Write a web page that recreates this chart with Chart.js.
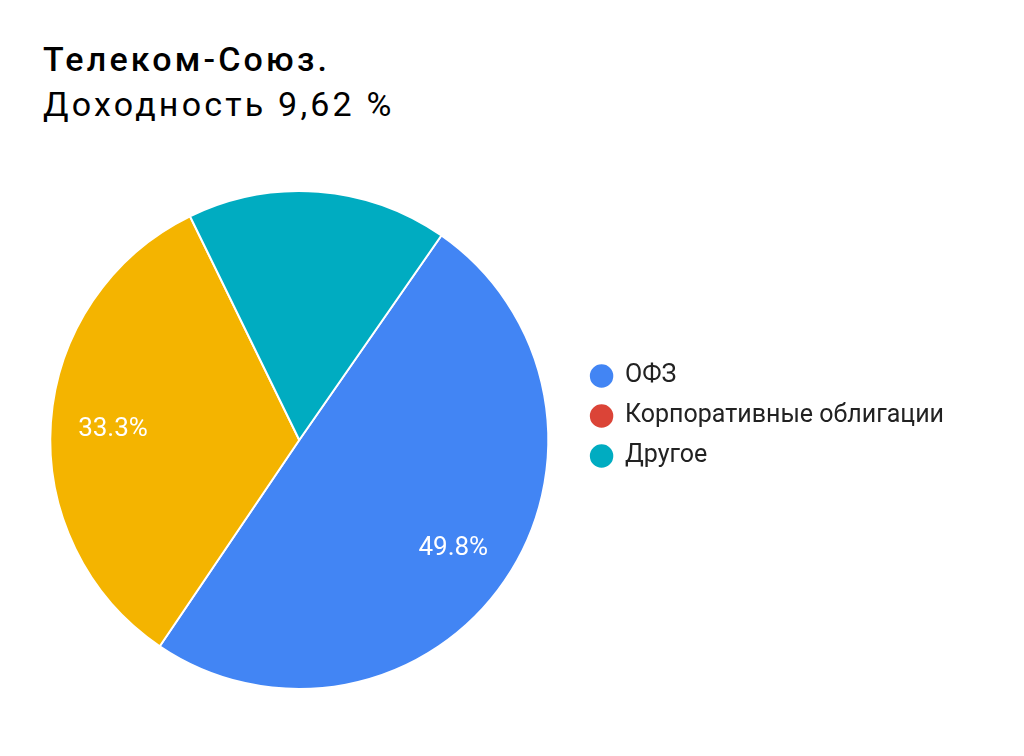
<!DOCTYPE html>
<html>
<head>
<meta charset="utf-8">
<script src="https://cdn.jsdelivr.net/npm/chart.js@4/dist/chart.umd.min.js"></script>
<style>
    body { margin: 0; background: #fff; width: 1024px; height: 756px; overflow: hidden; font-family: Roboto, sans-serif; }
    .title { position: absolute; left: 43px; top: 37px; color: #000; letter-spacing: 3.2px; }
    .title .l1 { font-size: 34px; font-weight: 500; line-height: 45px; }
    .title .l2 { font-size: 34px; font-weight: 400; line-height: 45px; }
    .chart-box { position: absolute; left: 23px; top: 180px; width: 931px; height: 520px; }
</style>
</head>
<body>
<div class="title">
    <div class="l1">Телеком-Союз.</div>
    <div class="l2">Доходность 9,62 %</div>
</div>
<div class="chart-box"><canvas id="pieChart"></canvas></div>
<script>
// данные
const categories = ['ОФЗ', 'Корпоративные облигации', '', 'Другое'];
const shares = [49.8, 0, 33.3, 16.9];
const sliceColors = ['#4285F4', '#DB4437', '#F4B400', '#00ACC1'];
const showPercent = [true, false, true, false];

// подписи процентов внутри секторов
const percentLabels = {
    id: 'percentLabels',
    afterDatasetsDraw(chart) {
        const ctx = chart.ctx;
        const total = shares.reduce((a, b) => a + b, 0);
        chart.getDatasetMeta(0).data.forEach((arc, i) => {
            if (!showPercent[i]) return;
            const mid = (arc.startAngle + arc.endAngle) / 2;
            const r = arc.outerRadius * 0.75;
            const x = arc.x + Math.cos(mid) * r;
            const y = arc.y + Math.sin(mid) * r + 3;
            ctx.save();
            ctx.fillStyle = '#fff';
            ctx.font = '26px Roboto';
            ctx.textAlign = 'center';
            ctx.textBaseline = 'middle';
            ctx.fillText((shares[i] / total * 100).toFixed(1) + '%', x, y);
            ctx.restore();
        });
    }
};

// легенда чуть выше центра круга
const legendShift = {
    id: 'legendShift',
    afterLayout(chart) {
        chart.legend.top -= 24;
        chart.legend.bottom -= 24;
    }
};

new Chart(document.getElementById('pieChart'), {
    type: 'pie',
    data: {
        labels: categories,
        datasets: [{
            data: shares,
            backgroundColor: sliceColors,
            borderColor: '#fff',
            borderWidth: 2
        }]
    },
    options: {
        responsive: true,
        maintainAspectRatio: false,
        animation: false,
        rotation: 34.8,
        layout: { padding: { top: 10, bottom: 10, left: 0, right: 0 } },
        plugins: {
            tooltip: { enabled: false },
            legend: {
                position: 'right',
                align: 'center',
                labels: {
                    usePointStyle: true,
                    pointStyle: 'circle',
                    boxWidth: 22,
                    boxHeight: 18,
                    padding: 15,
                    color: '#222',
                    font: { family: 'Roboto', size: 25 },
                    filter: item => item.text !== ''
                }
            }
        }
    },
    plugins: [percentLabels, legendShift]
});
</script>
</body>
</html>
